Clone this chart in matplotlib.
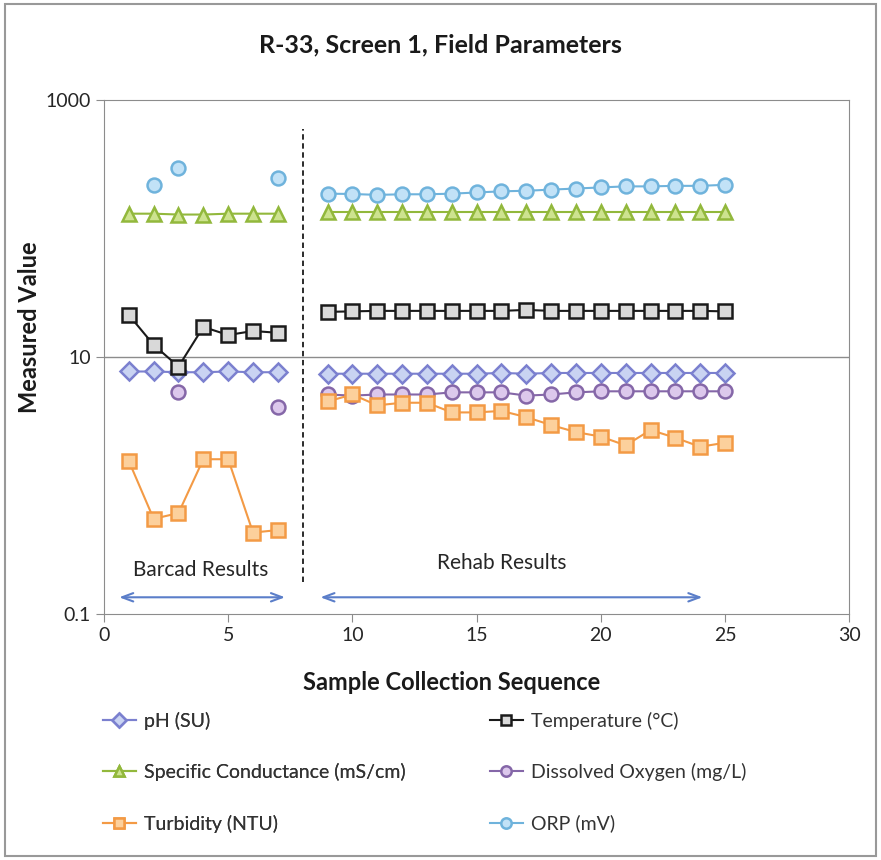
import numpy as np
import matplotlib.pyplot as plt
from matplotlib.patches import Rectangle

plt.rcParams['font.family'] = ['Lato', 'DejaVu Sans']

# sample numbers, Barcad part and Rehab part
x_barcad = [1, 2, 3, 4, 5, 6, 7]
x_rehab = list(range(9, 26))

ph_barcad = [7.7, 7.7, 7.6, 7.6, 7.7, 7.6, 7.6]
ph_rehab = [7.4, 7.4, 7.4, 7.4, 7.4, 7.4, 7.4, 7.5, 7.4, 7.5, 7.5, 7.5, 7.5, 7.5, 7.5, 7.5, 7.5]

temp_barcad = [21.2, 12.4, 8.4, 17.1, 14.8, 15.9, 15.4]
temp_rehab = [22.4, 22.6, 22.8, 22.8, 22.8, 22.8, 22.8, 22.8, 23.2, 22.8, 22.8, 22.8, 22.8, 22.8, 22.8, 22.8, 22.6]

sc_barcad = [130, 130, 128, 128, 130, 130, 130]
sc_rehab = [134, 134, 134, 134, 134, 134, 134, 134, 134, 134, 134, 134, 134, 134, 134, 134, 134]

do_barcad = [np.nan, np.nan, 5.3, np.nan, np.nan, np.nan, 4.1]
do_rehab = [5.1, 5.0, 5.1, 5.1, 5.1, 5.3, 5.3, 5.3, 5.0, 5.1, 5.3, 5.4, 5.4, 5.4, 5.4, 5.4, 5.4]

turb_barcad = [1.55, 0.55, 0.61, 1.6, 1.6, 0.43, 0.45]
turb_rehab = [4.5, 5.1, 4.2, 4.4, 4.4, 3.7, 3.7, 3.8, 3.4, 2.95, 2.6, 2.4, 2.05, 2.7, 2.35, 2.0, 2.15]

orp_barcad = [np.nan, 218, 296, np.nan, np.nan, np.nan, 246]
orp_rehab = [186, 185, 182, 184, 184, 186, 190, 194, 196, 200, 204, 208, 212, 212, 214, 214, 218]

series = [
    # label, barcad, rehab, marker, face, edge, barcad line
    ('pH (SU)', ph_barcad, ph_rehab, 'D', '#c9d3f2', '#7b80cf', True),
    ('Temperature (°C)', temp_barcad, temp_rehab, 's', '#d9d9d9', '#1a1a1a', True),
    ('Specific Conductance (mS/cm)', sc_barcad, sc_rehab, '^', '#cde38f', '#92b83c', True),
    ('Dissolved Oxygen (mg/L)', do_barcad, do_rehab, 'o', '#dcc8ec', '#8567a8', False),
    ('Turbidity (NTU)', turb_barcad, turb_rehab, 's', '#fcd09c', '#f39a45', True),
    ('ORP (mV)', orp_barcad, orp_rehab, 'o', '#c2e2f7', '#6fb3dc', False),
]

fig = plt.figure(figsize=(8.81, 8.60), dpi=100)
fig.patches.append(Rectangle((0.006, 0.005), 0.988, 0.99, transform=fig.transFigure,
                             fill=False, edgecolor='#999999', linewidth=1.5))
ax = fig.add_axes([0.118, 0.286, 0.846, 0.598])

handles = []
for label, yb, yr, mk, fc, ec, bline in series:
    ms = 9 if mk == 'D' else 10
    ax.plot(x_barcad, yb, marker=mk, markersize=ms, markerfacecolor=fc, markeredgecolor=ec,
            markeredgewidth=1.8, color=ec, linewidth=1.5, linestyle='-' if bline else 'none')
    h, = ax.plot(x_rehab, yr, marker=mk, markersize=ms, markerfacecolor=fc, markeredgecolor=ec,
                 markeredgewidth=1.8, color=ec, linewidth=1.5, label=label)
    handles.append(h)

ax.set_yscale('log')
ax.set_ylim(0.1, 1000)
ax.set_xlim(0, 30)
ax.set_yticks([0.1, 10, 1000])
ax.set_yticklabels(['0.1', '10', '1000'])
ax.minorticks_off()
ax.set_xticks([0, 5, 10, 15, 20, 25, 30])
ax.axhline(10, color='#8c8c8c', linewidth=1, zorder=0)
for s in ax.spines.values():
    s.set_color('#8c8c8c')
ax.tick_params(axis='both', colors='#8c8c8c', labelcolor='#262626', labelsize=14, length=6, direction='out')

ax.axvline(8, ymin=0.062, ymax=0.944, color='#1a1a1a', linestyle=(0, (3, 2)), linewidth=1.3)

arrow_y = 0.135
ax.annotate('', xy=(0.5, arrow_y), xytext=(7.4, arrow_y),
            arrowprops=dict(arrowstyle='<->,head_length=0.8,head_width=0.3', color='#5b7ec9', lw=1.5))
ax.annotate('', xy=(8.6, arrow_y), xytext=(24.2, arrow_y),
            arrowprops=dict(arrowstyle='<->,head_length=0.8,head_width=0.3', color='#5b7ec9', lw=1.5))
ax.text(3.9, 0.22, 'Barcad Results', ha='center', va='center', fontsize=15, color='#262626')
ax.text(16.0, 0.25, 'Rehab Results', ha='center', va='center', fontsize=15, color='#262626')

fig.text(0.5, 0.948, 'R-33, Screen 1, Field Parameters', ha='center', va='center',
         fontsize=18, fontweight='bold', color='#1a1a1a')
fig.text(0.034, 0.619, 'Measured Value', rotation=90, ha='center', va='center',
         fontsize=17, fontweight='bold', color='#1a1a1a')
fig.text(0.513, 0.206, 'Sample Collection Sequence', ha='center', va='center',
         fontsize=17, fontweight='bold', color='#1a1a1a')

leg_kw = dict(loc='upper left', frameon=False, fontsize=14, markerscale=0.75,
              handlelength=1.7, handletextpad=0.4, labelspacing=1.72, labelcolor='#333333')
leg1 = fig.legend([handles[0], handles[2], handles[4]],
                  [handles[i].get_label() for i in (0, 2, 4)],
                  bbox_to_anchor=(0.097, 0.193), **leg_kw)
fig.add_artist(leg1)
fig.legend([handles[1], handles[3], handles[5]],
           [handles[i].get_label() for i in (1, 3, 5)],
           bbox_to_anchor=(0.536, 0.193), **leg_kw)

fig.savefig('out.png', dpi=100)
